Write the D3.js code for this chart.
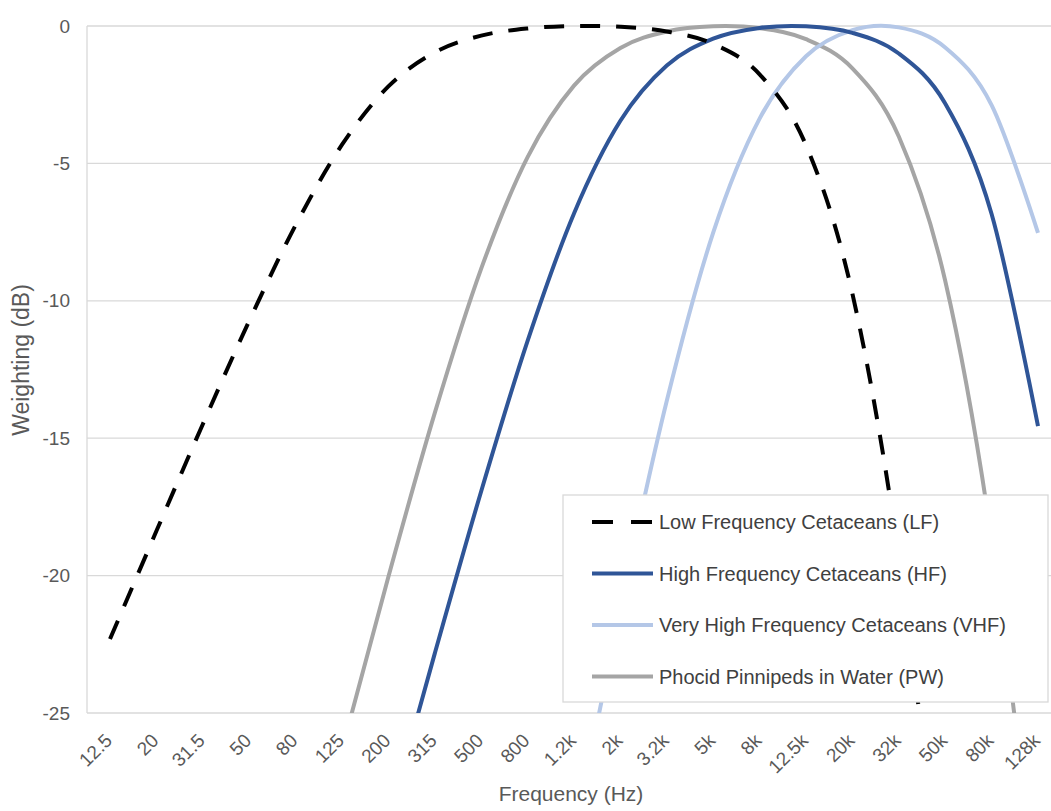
<!DOCTYPE html>
<html>
<head>
<meta charset="utf-8">
<script src="https://cdn.jsdelivr.net/npm/d3@7"></script>
<style>
  html, body { margin: 0; padding: 0; background: #fff; }
  svg { display: block; font-family: "Liberation Sans", Arial, sans-serif; }
</style>
</head>
<body>
<div id="chart"></div>
<script>
// frequency bands (categories) and weighting values in dB
const freqLabels = ['12.5', '20', '31.5', '50', '80', '125', '200', '315', '500', '800', '1.2k',
  '2k', '3.2k', '5k', '8k', '12.5k', '20k', '32k', '50k', '80k', '128k']
const lfValues = [-22.31, -18.38, -14.49, -10.73, -7.25, -4.32, -2.20, -0.96, -0.35, -0.09, -0.00,
  -0.03, -0.20, -0.65, -1.76, -4.34, -9.74, -19.31, -33.24, -50.29, -69.03]
const hfValues = [-66.16, -59.94, -53.72, -47.50, -41.29, -35.09, -28.92, -22.83, -16.93, -11.46, -6.82,
  -3.45, -1.44, -0.46, -0.07, -0.01, -0.25, -1.00, -2.82, -6.84, -14.56]
const vhfValues = [-118.6, -109.65, -100.70, -91.75, -82.80, -73.85, -64.91, -55.97, -47.06, -38.22, -29.52,
  -21.19, -13.64, -7.52, -3.37, -1.10, -0.15, -0.05, -0.78, -2.88, -7.53]
const pwValues = [-58.88, -52.34, -45.81, -39.28, -32.78, -26.33, -20.04, -14.08, -8.83, -4.77, -2.17,
  -0.80, -0.20, -0.01, -0.08, -0.48, -1.54, -4.02, -9.27, -18.67, -32.43]
const yTicks = [0, -5, -10, -15, -20, -25]

const series = [
  { name: 'Low Frequency Cetaceans (LF)', values: lfValues, color: '#000000', dash: '20,16' },
  { name: 'High Frequency Cetaceans (HF)', values: hfValues, color: '#2f5597', dash: null },
  { name: 'Very High Frequency Cetaceans (VHF)', values: vhfValues, color: '#b4c7e7', dash: null },
  { name: 'Phocid Pinnipeds in Water (PW)', values: pwValues, color: '#a5a5a5', dash: null }
]

const width = 1051
const height = 811
const plot = { left: 87, right: 1051, top: 26, bottom: 713 }

const svg = d3.select('#chart')
  .append('svg')
  .attr('width', width)
  .attr('height', height)

// x: one point per band, y: dB
const xScale = d3.scalePoint()
  .domain(freqLabels)
  .range([110, 1038])
const yScale = d3.scaleLinear()
  .domain([-25, 0])
  .range([plot.bottom, plot.top])

// gridlines
svg.append('g')
  .selectAll('line')
  .data(yTicks)
  .enter()
  .append('line')
  .attr('x1', plot.left)
  .attr('x2', plot.right)
  .attr('y1', d => yScale(d))
  .attr('y2', d => yScale(d))
  .attr('stroke', '#d9d9d9')
  .attr('stroke-width', 1.3)
svg.append('line')
  .attr('x1', plot.left).attr('x2', plot.left)
  .attr('y1', plot.top).attr('y2', plot.bottom)
  .attr('stroke', '#d9d9d9')
  .attr('stroke-width', 1.3)

// y axis labels (plain hyphen, as in the original)
const yAxis = d3.axisLeft(yScale).tickValues(yTicks).tickSize(0).tickPadding(17)
  .tickFormat(d => String(d))
svg.append('g')
  .attr('transform', 'translate(' + plot.left + ',0)')
  .call(yAxis)
  .call(g => g.select('.domain').remove())
  .selectAll('text')
  .attr('font-size', 19)
  .attr('font-family', '"Liberation Sans", Arial, sans-serif')
  .attr('fill', '#595959')

// x axis labels, rotated
const xAxis = d3.axisBottom(xScale).tickSize(0).tickPadding(0)
svg.append('g')
  .attr('transform', 'translate(0,' + plot.bottom + ')')
  .call(xAxis)
  .call(g => g.select('.domain').remove())
  .selectAll('text')
  .attr('font-size', 19)
  .attr('font-family', '"Liberation Sans", Arial, sans-serif')
  .attr('fill', '#595959')
  .attr('text-anchor', 'end')
  .attr('dy', '0.35em')
  .attr('transform', 'translate(-2,24) rotate(-45)')

// axis titles
svg.append('text')
  .attr('x', 571)
  .attr('y', 801)
  .attr('text-anchor', 'middle')
  .attr('font-size', 21)
  .attr('fill', '#595959')
  .text('Frequency (Hz)')
svg.append('text')
  .attr('transform', 'translate(29,360) rotate(-90)')
  .attr('text-anchor', 'middle')
  .attr('font-size', 23)
  .attr('fill', '#595959')
  .text('Weighting (dB)')

// lines, clipped to the plot area
svg.append('clipPath')
  .attr('id', 'plot-clip')
  .append('rect')
  .attr('x', plot.left)
  .attr('y', plot.top - 4)
  .attr('width', plot.right - plot.left)
  .attr('height', plot.bottom - plot.top + 4)

const line = d3.line()
  .x((d, i) => xScale(freqLabels[i]))
  .y(d => yScale(d))
  .curve(d3.curveCardinal.tension(0))

svg.append('g')
  .attr('clip-path', 'url(#plot-clip)')
  .selectAll('path')
  .data(series.slice().reverse())
  .enter()
  .append('path')
  .attr('d', d => line(d.values))
  .attr('fill', 'none')
  .attr('stroke', d => d.color)
  .attr('stroke-width', 4)
  .attr('stroke-dasharray', d => d.dash)

// legend
const legend = svg.append('g')
legend.append('rect')
  .attr('x', 563)
  .attr('y', 495)
  .attr('width', 485)
  .attr('height', 207)
  .attr('fill', '#ffffff')
  .attr('stroke', '#d9d9d9')
  .attr('stroke-width', 1.3)
const items = legend.selectAll('.item')
  .data(series)
  .enter()
  .append('g')
  .attr('class', 'item')
  .attr('transform', (d, i) => 'translate(0,' + (522 + i * 51.5) + ')')
items.append('line')
  .attr('x1', 592)
  .attr('x2', 653)
  .attr('stroke', d => d.color)
  .attr('stroke-width', 4)
  .attr('stroke-dasharray', d => d.dash ? '21,18' : null)
items.append('text')
  .attr('x', 659)
  .attr('dy', '0.35em')
  .attr('font-size', 20)
  .attr('fill', '#404040')
  .text(d => d.name)
</script>
</body>
</html>
